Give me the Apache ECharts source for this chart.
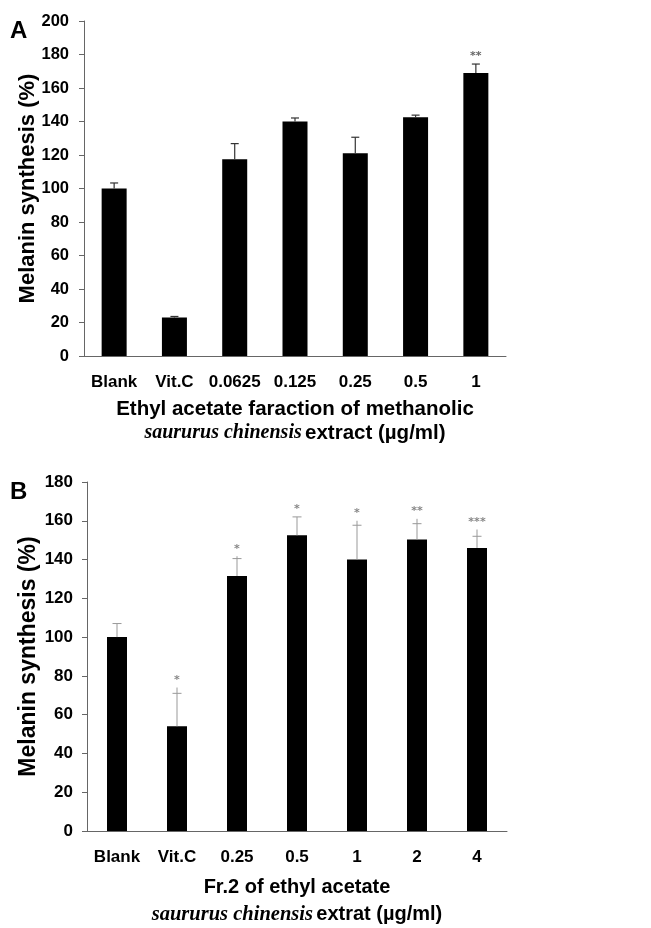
<!DOCTYPE html>
<html><head><meta charset="utf-8">
<script src="https://cdn.jsdelivr.net/npm/echarts@6/dist/echarts.min.js"></script>
<style>html,body{margin:0;padding:0;background:#fff}#c{width:651px;height:928px}</style>
</head><body><div id="c"></div>
<script>
// Panel A data
var catsA = ['Blank', 'Vit.C', '0.0625', '0.125', '0.25', '0.5', '1'];
var valA = [100, 23, 117.5, 140, 121, 142.5, 169];
var capA = [103.3, 23.6, 126.8, 142.1, 130.6, 143.8, 174.3];
var topA = [103.3, 23.6, 126.8, 142.1, 130.6, 143.8, 174.3];
var starA = ['', '', '', '', '', '', '**'];
var ticksA = {min: 0, max: 200, interval: 20};

// Panel B data
var catsB = ['Blank', 'Vit.C', '0.25', '0.5', '1', '2', '4'];
var valB = [100, 54, 131.5, 152.5, 140, 150.3, 146];
var capB = [107, 71, 140.5, 162, 157.7, 158.5, 152];
var topB = [107, 74, 141.7, 162, 160, 161, 155.5];
var starB = ['', '*', '*', '*', '*', '**', '***'];
var ticksB = {min: 0, max: 180, interval: 20};

var FB = '"Liberation Sans", Arial, sans-serif';
var FS = '"Liberation Serif", "DejaVu Serif", serif';

function errItem(vals, caps, tops, stars, capW, color, lw, starColor, starSize) {
  return function (params, api) {
    var i = params.dataIndex;
    var b = api.coord([i, vals[i]]);
    var c = api.coord([i, caps[i]]);
    var t = api.coord([i, tops[i]]);
    var ch = [
      {type: 'line', shape: {x1: b[0], y1: b[1], x2: t[0], y2: t[1]}, style: {stroke: color, lineWidth: lw}},
      {type: 'line', shape: {x1: c[0] - capW / 2, y1: c[1], x2: c[0] + capW / 2, y2: c[1]}, style: {stroke: color, lineWidth: lw}}
    ];
    if (stars[i]) {
      ch.push({type: 'text', x: t[0], y: t[1] - 2, style: {text: stars[i], fill: starColor, font: 'bold ' + starSize + 'px "DejaVu Sans", sans-serif', align: 'center', verticalAlign: 'bottom'}});
    }
    return {type: 'group', children: ch};
  };
}

var axisCol = '#666';
var chart = echarts.init(document.getElementById('c'), null, {renderer: 'canvas'});
chart.setOption({
  animation: false,
  backgroundColor: '#fff',
  title: [
    {text: 'A', left: 5, top: 14, textStyle: {fontSize: 24, fontWeight: 'bold', fontFamily: FB, color: '#000'}},
    {text: 'B', left: 5, top: 475, textStyle: {fontSize: 24, fontWeight: 'bold', fontFamily: FB, color: '#000'}}
  ],
  grid: [
    {left: 84, width: 422, top: 21, height: 335},
    {left: 87, width: 420, top: 482, height: 349}
  ],
  xAxis: [
    {type: 'category', gridIndex: 0, data: catsA,
      axisLine: {lineStyle: {color: axisCol, width: 1}}, axisTick: {show: false},
      axisLabel: {color: '#000', fontFamily: FB, fontWeight: 'bold', fontSize: 17, margin: 18, interval: 0},
      name: '{b|Ethyl acetate faraction of methanolic}\n{i|saururus chinensis} {b|extract (µg/ml)}',
      nameLocation: 'middle', nameGap: 41, nameMoveOverlap: false,
      nameTextStyle: {rich: {
        b: {fontFamily: FB, fontWeight: 'bold', fontSize: 20.5, color: '#000', lineHeight: 24},
        i: {fontFamily: FS, fontStyle: 'italic', fontWeight: 'bold', fontSize: 20, color: '#000', lineHeight: 24}
      }}
    },
    {type: 'category', gridIndex: 1, data: catsB,
      axisLine: {lineStyle: {color: axisCol, width: 1}}, axisTick: {show: false},
      axisLabel: {color: '#000', fontFamily: FB, fontWeight: 'bold', fontSize: 17, margin: 18, interval: 0},
      name: '{b|Fr.2 of ethyl acetate}\n{i|saururus chinensis} {b|extrat (µg/ml)}',
      nameLocation: 'middle', nameGap: 43, nameMoveOverlap: false,
      nameTextStyle: {rich: {
        b: {fontFamily: FB, fontWeight: 'bold', fontSize: 20, color: '#000', lineHeight: 27},
        i: {fontFamily: FS, fontStyle: 'italic', fontWeight: 'bold', fontSize: 20.5, color: '#000', lineHeight: 27}
      }}
    }
  ],
  yAxis: [
    {type: 'value', gridIndex: 0, min: ticksA.min, max: ticksA.max, interval: ticksA.interval,
      axisLine: {show: true, lineStyle: {color: axisCol, width: 1}},
      axisTick: {show: true, length: 5, lineStyle: {color: axisCol}},
      splitLine: {show: false},
      axisLabel: {color: '#000', fontFamily: FB, fontWeight: 'bold', fontSize: 16.5, margin: 15},
      name: 'Melanin synthesis (%)', nameLocation: 'middle', nameGap: 45, nameMoveOverlap: false,
      nameTextStyle: {fontFamily: FB, fontWeight: 'bold', fontSize: 22, color: '#000'}
    },
    {type: 'value', gridIndex: 1, min: ticksB.min, max: ticksB.max, interval: ticksB.interval,
      axisLine: {show: true, lineStyle: {color: axisCol, width: 1}},
      axisTick: {show: true, length: 5, lineStyle: {color: axisCol}},
      splitLine: {show: false},
      axisLabel: {color: '#000', fontFamily: FB, fontWeight: 'bold', fontSize: 17, margin: 14},
      name: 'Melanin synthesis (%)', nameLocation: 'middle', nameGap: 47, nameMoveOverlap: false,
      nameTextStyle: {fontFamily: FB, fontWeight: 'bold', fontSize: 23, color: '#000'}
    }
  ],
  series: [
    {type: 'bar', xAxisIndex: 0, yAxisIndex: 0, data: valA, barWidth: 25, itemStyle: {color: '#000'}},
    {type: 'custom', xAxisIndex: 0, yAxisIndex: 0, data: valA.map(function (v, i) { return [i, v]; }),
      renderItem: errItem(valA, capA, topA, starA, 8, '#333', 1.2, '#666', 11), z: 3},
    {type: 'bar', xAxisIndex: 1, yAxisIndex: 1, data: valB, barWidth: 20, itemStyle: {color: '#000'}},
    {type: 'custom', xAxisIndex: 1, yAxisIndex: 1, data: valB.map(function (v, i) { return [i, v]; }),
      renderItem: errItem(valB, capB, topB, starB, 9, '#999', 1, '#888', 11), z: 3}
  ]
});
</script></body></html>
